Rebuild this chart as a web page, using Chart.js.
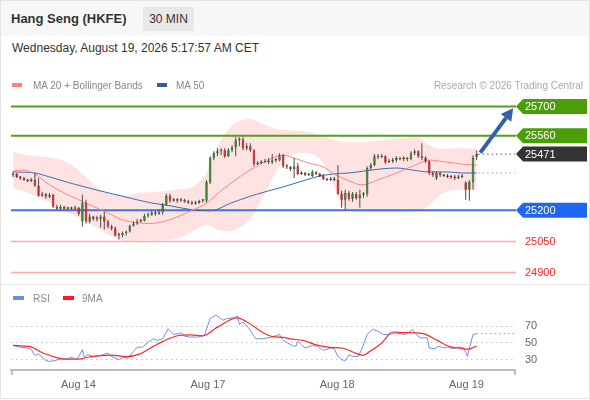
<!DOCTYPE html>
<html>
<head>
<meta charset="utf-8">
<script src="https://cdn.jsdelivr.net/npm/chart.js@4.4.1/dist/chart.umd.min.js"></script>
<style>
  html, body { margin: 0; padding: 0; background: #fff; }
  body { font-family: "Liberation Sans", Arial, sans-serif; color: #333; }
  #wrap { position: relative; width: 590px; height: 400px; overflow: hidden; background: #fff; }
  #head { position: absolute; left: 0; top: 0; width: 590px; height: 36px; background: #f7f7f7; }
  #title { position: absolute; left: 11px; top: 11px; font-size: 13px; line-height: 16px; font-weight: bold; color: #333; }
  #tf { position: absolute; left: 143px; top: 7px; width: 51px; height: 24px; background: #e8e8e8; font-size: 12px; line-height: 24px; text-align: center; color: #333; }
  #date { position: absolute; left: 12px; top: 41px; font-size: 12px; line-height: 14px; color: #333; }
  .leg { position: absolute; font-size: 10px; line-height: 12px; color: #888; white-space: nowrap; }
  .sw { display: inline-block; width: 10px; height: 4px; vertical-align: middle; margin-top: -2px; }
  canvas { position: absolute; left: 0; }
  #sep { position: absolute; left: 0; top: 284px; width: 590px; height: 1px; background: #e8e8e8; }
  #frame { position: absolute; left: 0; top: 0; width: 590px; height: 399px; box-sizing: border-box; border: 1px solid #e4e4e4; pointer-events: none; }
</style>
</head>
<body>
<div id="wrap">
  <div id="head"></div>
  <div id="title">Hang Seng (HKFE)</div>
  <div id="tf">30 MIN</div>
  <div id="date">Wednesday, August 19, 2026 5:17:57 AM CET</div>
  <canvas id="price" width="590" height="194" style="top:90px"></canvas>
  <div class="leg" style="left:12px;top:80px"><span class="sw" style="background:#ff7f7f;margin-right:11px"></span>MA 20 + Bollinger Bands</div>
  <div class="leg" style="left:157px;top:80px"><span class="sw" style="background:#2f5d9e;margin-right:9px"></span>MA 50</div>
  <div class="leg" style="right:7px;top:80px;color:#aaa">Research © 2026 Trading Central</div>
  <div id="sep"></div>
  <canvas id="rsi" width="590" height="110" style="top:288px"></canvas>
  <div class="leg" style="left:13px;top:293px"><span class="sw" style="width:11px;background:#6b8fe8;margin-right:9px"></span>RSI</div>
  <div class="leg" style="left:63px;top:293px"><span class="sw" style="width:11px;background:#ff1a1a;margin-right:8px"></span>9MA</div>
  <div id="frame"></div>
</div>
<script>
// 30 min candles, index 0 = first bar on the left
const open = [
  25370,25375,25361,25356,25346,25342,25346,25318,25270,25280,
  25265,25275,25217,25208,25217,25208,25213,25208,25213,25146,
  25237,25146,25170,25160,25160,25170,25146,25122,25112,25079,
  25081,25089,25098,25126,25136,25146,25150,25174,25179,25189,
  25184,25193,25227,25270,25246,25251,25246,25251,25241,25237,
  25232,25237,25246,25246,25337,25452,25475,25485,25490,25461,
  25490,25504,25538,25542,25499,25509,25490,25423,25428,25432,
  25437,25432,25442,25440,25466,25413,25409,25399,25413,25375,
  25380,25370,25366,25385,25375,25366,25351,25346,25351,25346,
  25280,25251,25284,25256,25280,25260,25275,25280,25404,25418,
  25461,25456,25461,25432,25437,25442,25452,25447,25452,25447,
  25475,25485,25461,25452,25437,25380,25356,25380,25370,25366,
  25361,25359,25356,25361,25332,25299,25337,25456
];
const high = [
  25385,25380,25366,25361,25351,25356,25380,25356,25289,25284,
  25284,25280,25227,25227,25222,25217,25217,25222,25217,25275,
  25251,25184,25174,25174,25179,25193,25155,25131,25122,25093,
  25098,25103,25131,25146,25160,25160,25184,25189,25198,25198,
  25203,25237,25280,25280,25260,25260,25260,25256,25251,25246,
  25246,25251,25256,25346,25461,25485,25499,25499,25499,25499,
  25514,25552,25552,25552,25523,25523,25495,25437,25442,25447,
  25452,25471,25452,25475,25471,25423,25413,25452,25428,25389,
  25385,25380,25394,25389,25380,25375,25356,25361,25361,25418,
  25294,25299,25294,25289,25289,25299,25289,25413,25428,25471,
  25471,25471,25466,25447,25452,25461,25456,25461,25456,25485,
  25495,25490,25523,25461,25442,25389,25389,25385,25375,25375,
  25370,25370,25370,25375,25342,25346,25466,25490
];
const low = [
  25361,25356,25346,25342,25337,25337,25313,25265,25265,25256,
  25260,25213,25203,25203,25203,25203,25203,25203,25174,25122,
  25136,25136,25150,25146,25117,25108,25112,25103,25074,25060,
  25070,25079,25093,25122,25131,25141,25146,25165,25174,25174,
  25179,25179,25222,25237,25241,25237,25241,25237,25232,25227,
  25227,25232,25237,25237,25327,25442,25461,25466,25452,25456,
  25480,25461,25509,25490,25490,25480,25413,25418,25423,25428,
  25423,25423,25432,25437,25404,25399,25389,25356,25370,25370,
  25366,25366,25361,25370,25361,25346,25342,25342,25342,25275,
  25213,25203,25246,25241,25251,25213,25260,25265,25394,25413,
  25447,25452,25423,25428,25428,25432,25442,25437,25437,25442,
  25466,25452,25442,25428,25370,25361,25346,25361,25361,25356,
  25351,25346,25351,25356,25251,25246,25299,25442
];
const close = [
  25375,25361,25356,25346,25342,25346,25318,25270,25280,25265,
  25275,25217,25208,25217,25208,25213,25208,25213,25184,25237,
  25146,25170,25160,25158,25170,25146,25122,25112,25079,25081,
  25089,25098,25126,25136,25146,25150,25174,25179,25189,25184,
  25193,25227,25270,25246,25251,25246,25251,25241,25237,25232,
  25237,25246,25251,25337,25452,25475,25485,25490,25461,25490,
  25504,25538,25542,25499,25509,25490,25423,25428,25432,25437,
  25432,25442,25440,25466,25413,25409,25399,25413,25375,25380,
  25370,25375,25385,25375,25366,25351,25346,25351,25346,25280,
  25251,25284,25256,25280,25260,25275,25280,25404,25418,25461,
  25456,25461,25432,25437,25442,25452,25447,25452,25447,25475,
  25485,25461,25452,25437,25380,25370,25380,25370,25366,25361,
  25359,25356,25361,25366,25299,25337,25452,25471
];

const ma20Idx = [0,3,6,10,14,18,21,24,27,29,32,37.5,40,43,46.6,49,51,53.5,56,60,64.5,68,74,77,81,85,88,92,95.5,100.5,105,109.5,114,119,123,127];
const ma20 = [25389,25394,25375,25323,25284,25251,25227,25203,25179,25160,25146,25136,25141,25155,25180,25200,25215,25240,25280,25335,25390,25425,25466,25452,25428,25409,25375,25342,25323,25351,25380,25413,25442,25432,25423,25418];
const ma50Idx = [0,6,10,15.6,23.8,30.7,37.5,43,49,54,60,64.5,69,74,78.5,83,87.5,92,96,100.5,105,109.5,114,119,123,127];
const ma50 = [25385,25380,25361,25332,25294,25265,25237,25222,25203,25198,25237,25265,25289,25313,25337,25361,25375,25380,25389,25399,25404,25394,25385,25385,25380,25380];
const bandIdx = [0,5,10,15,19,23,27,31,35,40,45,49,53,56,59,62,65,69,72,75,79,83,86,88,90,94,100,106,111,114,117,121,127];
const bandUpper = [25480,25464,25455,25430,25378,25312,25277,25272,25285,25290,25300,25313,25380,25510,25590,25630,25640,25612,25592,25586,25583,25570,25550,25540,25532,25528,25536,25546,25552,25515,25497,25499,25499];
const bandLower = [25308,25278,25238,25191,25157,25115,25075,25051,25056,25055,25065,25095,25130,25108,25100,25115,25160,25280,25385,25455,25478,25462,25400,25310,25230,25192,25189,25189,25197,25225,25275,25299,25299];

// RSI panel
const rsiIdx = [0,2,4,5,6,7,9,10,11.5,13,15,16,17.5,19,19.5,20.5,22,24,26,27,29,30,31.5,33,34,35.5,37,38.5,39.5,41,42.5,44,46,47,48.5,50.5,52,52.5,54,55.5,56,57.5,58.5,60.5,61.5,62,63,64.5,66.5,68.5,71,73,74,76.5,77.5,78,79,80,82,83.5,85,87,88,89,90,91,92,93,94.5,95.5,97,98.5,100,101.5,103,105,107.5,109.5,110,111.5,113.5,114,115.5,116.5,118,119,120.5,122,123.5,124.5,125,126,127];
const rsi = [47,45,44,42,35,37,29,28,29,31,31,33,30,42,33,36,34,35,38,34,30,33,32,40,45,45,51,55,53,55,67,60,62,58,57,57,58.5,60,79,83,82,77,79,80,82,72,75,68,55,55,57,60,53,47,46,52,48,44,47,46,41,44,43,34,30,29,36,34,34,42,60,66,64,60,60,62,60,66,62,56,56,44,43,46,44,45,43,45,44,34,44,60,61];
const ma9Idx = [0,4.7,8.2,12,14.8,17.8,21,26.6,31.2,34.8,37.5,41.1,45,48.5,52,55.9,61.4,64,68.5,71.2,74,75.9,79.5,83.3,86.8,90.4,93.2,95.9,97.8,101,104,106.8,110.7,112.9,116.2,119.7,122.5,124.7,127];
const ma9 = [47,45.6,38,32.6,30.7,30.7,33.3,35.6,33.7,37,43.7,51.9,58.5,59.6,58.5,68.5,79.7,75.2,62.2,57.4,56.7,54.8,53,47.4,44.8,43.7,38.9,35.2,40,50,63,62.2,62,60.4,53,45.6,43.7,42.6,46.3];
const rsiTicks = [30, 50, 70];

// axis ticks and key levels
const dateIdx = [17.9, 53.4, 88.8, 124.2];
const dateLabels = ['Aug 14', 'Aug 17', 'Aug 18', 'Aug 19'];
const levels = [25700, 25560, 25200, 25050, 24900];
const arrowFrom = [128, 25478];
const arrowTo = [137, 25692];

const xMin = -0.55, xMax = 137.5;
const FONT = '"Liberation Sans", Arial, sans-serif';
Chart.defaults.font.family = FONT;

const levelStyle = [
  { line: '#4fa01a', width: 2, tag: '#4a9e08' },
  { line: '#4fa01a', width: 2, tag: '#4a9e08' },
  { line: '#3f74e0', width: 2, tag: '#1f66f2' },
  { line: '#ffabab', width: 1.5, text: '#ff1f1f' },
  { line: '#ffabab', width: 1.5, text: '#ff1f1f' }
];

const toXY = (xs, ys) => xs.map((v, k) => ({ x: v, y: ys[k] }));
const lastIdx = close.length - 1;
const lastClose = close[lastIdx];
const lastMa50 = ma50[ma50.length - 1];
const lastRsi = rsi[rsi.length - 1];

const up = close.map((c, i) => c >= open[i]);
const bodyFill = up.map(u => u ? '#3b8a30' : '#e2262a');
const bodyEdge = up.map(u => u ? '#1f5219' : '#8e1414');

function drawTag(ctx, left, py, color, text) {
  ctx.fillStyle = color;
  ctx.beginPath();
  ctx.moveTo(left, py);
  ctx.lineTo(left + 7, py - 7.5);
  ctx.lineTo(587, py - 7.5);
  ctx.lineTo(587, py + 7.5);
  ctx.lineTo(left + 7, py + 7.5);
  ctx.closePath();
  ctx.fill();
  ctx.fillStyle = '#fff';
  ctx.fillText(text, left + 9, py + 0.5);
}

const priceDecor = {
  id: 'priceDecor',
  afterDatasetDraw(chart, args) {
    // level lines go over the band fill, under the candles
    if (args.index !== 6) return;
    const { ctx, chartArea, scales: { y } } = chart;
    ctx.save();
    levels.forEach((v, k) => {
      const py = y.getPixelForValue(v);
      ctx.strokeStyle = levelStyle[k].line;
      ctx.lineWidth = levelStyle[k].width;
      ctx.beginPath();
      ctx.moveTo(chartArea.left, py);
      ctx.lineTo(chartArea.right + 1, py);
      ctx.stroke();
    });
    ctx.restore();
  },
  afterDatasetsDraw(chart) {
    const { ctx, chartArea, scales: { x, y } } = chart;
    ctx.save();

    // arrow towards the target
    const x0 = x.getPixelForValue(arrowFrom[0]), y0 = y.getPixelForValue(arrowFrom[1]);
    const x1 = x.getPixelForValue(arrowTo[0]), y1 = y.getPixelForValue(arrowTo[1]);
    const ang = Math.atan2(y1 - y0, x1 - x0);
    const hl = 12, hw = 6.5;
    const bx = x1 - hl * Math.cos(ang), by = y1 - hl * Math.sin(ang);
    ctx.strokeStyle = '#2f62a8';
    ctx.fillStyle = '#2f62a8';
    ctx.lineWidth = 4;
    ctx.beginPath();
    ctx.moveTo(x0, y0);
    ctx.lineTo(bx, by);
    ctx.stroke();
    ctx.beginPath();
    ctx.moveTo(x1, y1);
    ctx.lineTo(bx + hw * Math.sin(ang), by - hw * Math.cos(ang));
    ctx.lineTo(bx - hw * Math.sin(ang), by + hw * Math.cos(ang));
    ctx.closePath();
    ctx.fill();

    // price tags on the right
    ctx.font = '11px ' + FONT;
    ctx.textBaseline = 'middle';
    ctx.textAlign = 'left';
    const left = chartArea.right + 1;
    levels.forEach((v, k) => {
      const py = y.getPixelForValue(v);
      if (levelStyle[k].tag) {
        drawTag(ctx, left, py, levelStyle[k].tag, String(v));
      } else {
        ctx.fillStyle = levelStyle[k].text;
        ctx.fillText(String(v), left + 9, py + 0.5);
      }
    });
    drawTag(ctx, left, y.getPixelForValue(lastClose), '#333333', String(lastClose));
    ctx.restore();
  }
};

new Chart(document.getElementById('price'), {
  type: 'bar',
  data: {
    datasets: [
      {
        type: 'bar', data: close.map((c, i) => ({ x: i, y: [open[i], c] })),
        backgroundColor: bodyFill, borderColor: bodyEdge, borderWidth: 0.6, borderSkipped: false,
        grouped: false, barPercentage: 0.72, categoryPercentage: 1, minBarLength: 1.5, order: 0
      },
      {
        type: 'bar', data: high.map((h, i) => ({ x: i, y: [low[i], h] })),
        backgroundColor: '#4d4d4d', borderWidth: 0, grouped: false,
        barPercentage: 0.28, categoryPercentage: 1, order: 1
      },
      {
        type: 'line', data: toXY(ma20Idx, ma20), borderColor: '#ff8686', borderWidth: 1,
        pointRadius: 0, cubicInterpolationMode: 'monotone', order: 2
      },
      {
        type: 'line', data: toXY(ma50Idx, ma50), borderColor: '#3d6bb0', borderWidth: 1,
        pointRadius: 0, cubicInterpolationMode: 'monotone', order: 3
      },
      {
        type: 'line', data: [{ x: lastIdx + 0.4, y: lastClose }, { x: xMax, y: lastClose }],
        borderColor: '#555', borderWidth: 1, borderDash: [1.5, 3], pointRadius: 0, order: 4
      },
      {
        type: 'line', data: [{ x: lastIdx + 0.4, y: lastMa50 }, { x: xMax, y: lastMa50 }],
        borderColor: '#8a9cc4', borderWidth: 1, borderDash: [1.5, 3], pointRadius: 0, order: 5
      },
      {
        type: 'line', data: toXY(bandIdx, bandUpper), borderWidth: 0, pointRadius: 0,
        fill: '+1', backgroundColor: 'rgba(255,0,0,0.11)', cubicInterpolationMode: 'monotone', order: 6
      },
      {
        type: 'line', data: toXY(bandIdx, bandLower), borderWidth: 0, pointRadius: 0,
        fill: false, cubicInterpolationMode: 'monotone', order: 7
      }
    ]
  },
  options: {
    responsive: false,
    animation: false,
    events: [],
    layout: { padding: { left: 11, right: 75, top: 0, bottom: 0 } },
    plugins: { legend: { display: false }, tooltip: { enabled: false } },
    scales: {
      x: { type: 'linear', min: xMin, max: xMax, offset: false, display: false },
      y: { type: 'linear', min: 24845, max: 25780, display: false }
    }
  },
  plugins: [priceDecor]
});

const axisCaps = {
  id: 'axisCaps',
  afterDraw(chart) {
    const { ctx, chartArea } = chart;
    ctx.save();
    ctx.strokeStyle = '#bdbdbd';
    ctx.lineWidth = 2;
    ctx.beginPath();
    ctx.moveTo(chartArea.left + 1, chartArea.bottom);
    ctx.lineTo(chartArea.left + 1, chartArea.bottom + 5);
    ctx.moveTo(chartArea.right, chartArea.bottom);
    ctx.lineTo(chartArea.right, chartArea.bottom + 5);
    ctx.stroke();
    ctx.restore();
  }
};

new Chart(document.getElementById('rsi'), {
  type: 'line',
  data: {
    datasets: [
      { data: toXY(ma9Idx, ma9), borderColor: '#ff2a2a', borderWidth: 1.2, pointRadius: 0, cubicInterpolationMode: 'monotone' },
      { data: toXY(rsiIdx, rsi), borderColor: '#7092e6', borderWidth: 1, pointRadius: 0 },
      {
        data: [{ x: lastIdx, y: lastRsi }, { x: xMax, y: lastRsi }],
        borderColor: '#7b9be8', borderWidth: 1, borderDash: [1.5, 3], pointRadius: 0
      }
    ]
  },
  options: {
    responsive: false,
    animation: false,
    events: [],
    layout: { padding: { left: 11, right: 0, top: 12, bottom: 0 } },
    plugins: { legend: { display: false }, tooltip: { enabled: false } },
    scales: {
      x: {
        type: 'linear', min: xMin, max: xMax, offset: false,
        grid: { display: false, drawTicks: false },
        border: { display: true, color: '#bdbdbd', width: 2 },
        afterBuildTicks: s => { s.ticks = dateIdx.map(v => ({ value: v })); },
        afterFit: s => { s.height = 28; },
        ticks: {
          autoSkip: false, maxRotation: 0, padding: 8, color: '#666', font: { size: 11 },
          callback: (v, i) => dateLabels[i]
        }
      },
      y: {
        type: 'linear', position: 'right', min: 17.8, max: 95.6,
        afterBuildTicks: s => { s.ticks = rsiTicks.map(v => ({ value: v })); },
        afterFit: s => { s.width = 75; },
        grid: { color: '#c4c4c4', lineWidth: 1, drawTicks: false },
        border: { display: false, dash: [1.5, 3.5] },
        ticks: { padding: 10, color: '#666', font: { size: 11 } }
      }
    }
  },
  plugins: [axisCaps]
});
</script>
</body>
</html>
